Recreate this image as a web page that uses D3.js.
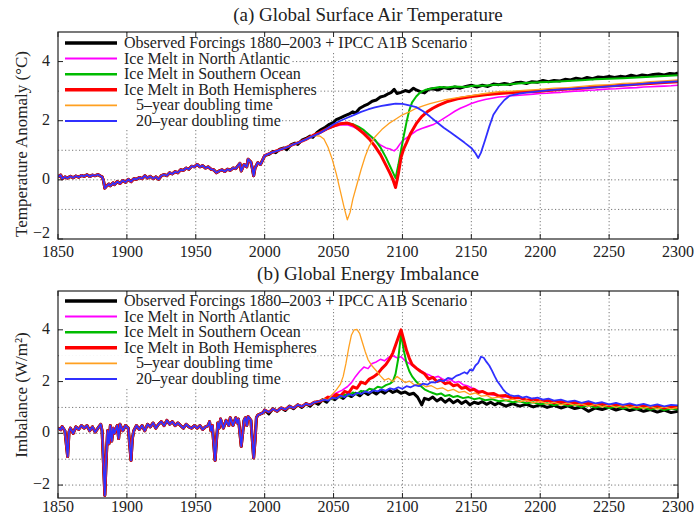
<!DOCTYPE html>
<html><head><meta charset="utf-8">
<script src="https://cdn.jsdelivr.net/npm/d3@7"></script>
<style>body{margin:0;background:#fff} text{font-family:"Liberation Serif","Times New Roman",serif;fill:#222}</style>
</head><body><svg id="c" width="694" height="516"></svg>
<script>
// ---------- tick labels ----------
const xTickVals = [1850,1900,1950,2000,2050,2100,2150,2200,2250,2300];
const tempTickVals = [-2,0,2,4];
const impTickVals = [-2,0,2,4];
const legendLabels = ["Observed Forcings 1880\u20132003 + IPCC A1B Scenario","Ice Melt in North Atlantic","Ice Melt in Southern Ocean","Ice Melt in Both Hemispheres","5\u2013year doubling time","20\u2013year doubling time"];

// ---------- (a) temperature anomaly, shared history 1850-2000 ----------
const tempHist = [[1850,0.10],[1852,0.16],[1853,0.04],[1855,0.10],[1857,0.06],[1859,0.12],[1861,0.07],[1863,0.13],[1865,0.09],[1867,0.15],[1869,0.12],[1871,0.17],[1873,0.11],[1875,0.16],[1877,0.14],[1879,0.18],[1881,0.12],[1882,0.10],[1883,-0.02],[1884,-0.28],[1885,-0.22],[1887,-0.14],[1888,-0.20],[1890,-0.10],[1891,-0.16],[1893,-0.06],[1895,-0.12],[1897,-0.02],[1899,-0.08],[1901,0.02],[1903,-0.06],[1905,0.04],[1907,0.02],[1909,0.08],[1911,0.04],[1913,0.14],[1915,0.06],[1917,0.12],[1919,0.04],[1921,0.10],[1923,0.02],[1925,0.14],[1927,0.18],[1929,0.14],[1931,0.24],[1933,0.20],[1935,0.28],[1937,0.24],[1939,0.34],[1941,0.32],[1943,0.40],[1945,0.36],[1947,0.46],[1949,0.44],[1951,0.52],[1953,0.44],[1955,0.48],[1957,0.40],[1959,0.44],[1961,0.36],[1963,0.34],[1965,0.24],[1967,0.30],[1969,0.34],[1971,0.28],[1973,0.36],[1975,0.32],[1977,0.40],[1979,0.38],[1981,0.50],[1982,0.56],[1983,0.30],[1985,0.52],[1987,0.44],[1988,0.70],[1990,0.60],[1991,0.40],[1992,0.14],[1993,0.40],[1995,0.58],[1997,0.52],[1999,0.72],[2000,0.82]];
const tempBlack = [[2000,0.82],[2003,0.86],[2006,0.96],[2008,0.92],[2011,1.04],[2014,1.08],[2016,1.02],[2019,1.18],[2022,1.24],[2024,1.20],[2027,1.34],[2030,1.40],[2033,1.48],[2035,1.44],[2038,1.60],[2041,1.70],[2044,1.78],[2047,1.88],[2050,1.94],[2052,2.04],[2055,2.10],[2058,2.16],[2061,2.22],[2064,2.30],[2066,2.26],[2069,2.42],[2072,2.50],[2075,2.56],[2078,2.66],[2081,2.70],[2084,2.80],[2087,2.84],[2090,2.92],[2092,2.96],[2094,3.06],[2096,2.92],[2099,2.96],[2102,3.02],[2105,2.98],[2108,3.10],[2110,3.04],[2113,2.98],[2116,2.94],[2119,3.06],[2122,3.08],[2126,3.04],[2130,3.12],[2134,3.08],[2138,3.14],[2142,3.10],[2146,3.16],[2150,3.20],[2154,3.14],[2158,3.20],[2162,3.16],[2166,3.24],[2170,3.22],[2174,3.26],[2178,3.22],[2182,3.28],[2186,3.30],[2190,3.26],[2194,3.32],[2198,3.30],[2202,3.36],[2206,3.32],[2210,3.36],[2214,3.34],[2218,3.40],[2222,3.38],[2226,3.44],[2230,3.40],[2234,3.46],[2238,3.42],[2242,3.48],[2246,3.46],[2250,3.50],[2254,3.46],[2258,3.50],[2262,3.48],[2266,3.54],[2270,3.50],[2274,3.55],[2278,3.52],[2282,3.56],[2286,3.58],[2290,3.55],[2294,3.60],[2298,3.58],[2300,3.62]];
const tempEarly = [[2000,0.82],[2005,0.92],[2010,1.00],[2015,1.08],[2020,1.18],[2025,1.27],[2030,1.37]];
const tempMagenta = [[2035,1.48],[2040,1.58],[2045,1.70],[2050,1.80],[2055,1.86],[2060,1.86],[2064,1.80],[2068,1.70],[2072,1.60],[2076,1.50],[2080,1.32],[2084,1.18],[2088,1.08],[2091,1.04],[2094,0.98],[2096,1.06],[2098,1.20],[2100,1.32],[2103,1.42],[2106,1.52],[2110,1.66],[2114,1.74],[2118,1.80],[2122,1.86],[2126,1.96],[2130,2.08],[2134,2.20],[2138,2.32],[2142,2.42],[2146,2.50],[2150,2.58],[2155,2.66],[2160,2.72],[2165,2.76],[2170,2.80],[2175,2.82],[2180,2.85],[2185,2.86],[2190,2.88],[2195,2.90],[2200,2.92],[2205,2.93],[2210,2.95],[2215,2.96],[2220,2.98],[2225,3.00],[2230,3.01],[2235,3.03],[2240,3.04],[2245,3.06],[2250,3.07],[2255,3.08],[2260,3.10],[2265,3.11],[2270,3.12],[2275,3.14],[2280,3.15],[2285,3.16],[2290,3.17],[2295,3.18],[2300,3.20]];
const tempGreen = [[2035,1.50],[2040,1.60],[2045,1.72],[2050,1.82],[2055,1.90],[2060,1.92],[2064,1.88],[2068,1.80],[2072,1.68],[2076,1.52],[2080,1.36],[2084,1.10],[2088,0.76],[2091,0.46],[2093,0.26],[2095,0.06],[2097,0.50],[2099,1.00],[2101,1.50],[2103,1.96],[2105,2.36],[2107,2.62],[2110,2.82],[2113,2.96],[2117,3.05],[2122,3.10],[2127,3.14],[2132,3.12],[2138,3.16],[2145,3.14],[2152,3.18],[2160,3.18],[2168,3.22],[2176,3.22],[2184,3.26],[2192,3.28],[2200,3.30],[2210,3.32],[2220,3.34],[2230,3.37],[2240,3.40],[2250,3.42],[2260,3.44],[2270,3.46],[2280,3.49],[2290,3.51],[2300,3.54]];
const tempRed = [[2035,1.50],[2040,1.60],[2045,1.72],[2050,1.82],[2055,1.90],[2060,1.92],[2064,1.86],[2068,1.72],[2072,1.56],[2076,1.38],[2080,1.14],[2084,0.86],[2088,0.50],[2091,0.22],[2093,0.02],[2095,-0.26],[2097,0.20],[2099,0.76],[2101,1.06],[2103,1.26],[2106,1.58],[2110,1.90],[2114,2.14],[2118,2.30],[2122,2.42],[2126,2.52],[2132,2.64],[2140,2.74],[2150,2.82],[2160,2.88],[2170,2.92],[2180,2.95],[2190,2.98],[2200,3.00],[2210,3.04],[2220,3.07],[2230,3.10],[2240,3.14],[2250,3.17],[2260,3.20],[2270,3.23],[2280,3.26],[2290,3.29],[2300,3.32]];
const tempOrange = [[2033,1.45],[2036,1.50],[2040,1.48],[2043,1.38],[2046,1.10],[2049,0.70],[2052,0.20],[2055,-0.40],[2058,-1.00],[2060,-1.35],[2062,-1.10],[2064,-0.65],[2067,-0.15],[2070,0.35],[2073,0.80],[2076,1.15],[2080,1.45],[2085,1.70],[2090,1.90],[2095,2.05],[2100,2.20],[2105,2.30],[2110,2.42],[2115,2.50],[2120,2.58],[2130,2.70],[2140,2.78],[2150,2.85],[2160,2.92],[2170,2.98],[2180,3.00],[2190,3.03],[2200,3.06],[2210,3.10],[2220,3.12],[2230,3.16],[2240,3.20],[2250,3.22],[2260,3.26],[2270,3.28],[2280,3.32],[2290,3.35],[2300,3.38]];
const tempBlue = [[2035,1.48],[2040,1.58],[2045,1.72],[2050,1.88],[2055,2.00],[2060,2.10],[2065,2.20],[2070,2.30],[2075,2.38],[2080,2.45],[2085,2.50],[2090,2.54],[2095,2.58],[2100,2.57],[2105,2.52],[2110,2.46],[2115,2.32],[2120,2.14],[2125,1.95],[2130,1.76],[2135,1.60],[2140,1.43],[2145,1.26],[2150,1.08],[2153,0.90],[2155,0.74],[2157,0.92],[2160,1.35],[2163,1.80],[2166,2.20],[2170,2.48],[2174,2.70],[2178,2.85],[2185,2.92],[2190,2.95],[2200,3.00],[2210,3.04],[2220,3.07],[2230,3.10],[2240,3.13],[2250,3.16],[2260,3.20],[2270,3.23],[2280,3.27],[2290,3.30],[2300,3.33]];

// ---------- (b) energy imbalance ----------
const impHist = [[1850,0.20],[1852,0.14],[1853,0.26],[1855,0.10],[1857,-0.90],[1858,0.05],[1859,0.20],[1861,0.00],[1863,0.25],[1865,0.15],[1867,0.30],[1869,0.20],[1871,0.30],[1873,0.10],[1875,0.25],[1877,0.05],[1879,0.20],[1881,0.35],[1882,0.10],[1884,-2.40],[1885,-1.00],[1886,0.10],[1887,-0.40],[1888,0.30],[1889,-0.30],[1890,0.20],[1891,0.00],[1893,0.30],[1894,-0.20],[1895,0.35],[1897,0.10],[1899,0.30],[1901,0.20],[1903,-1.05],[1904,-0.20],[1905,0.10],[1907,0.30],[1909,0.15],[1911,0.30],[1913,0.10],[1915,0.35],[1917,0.25],[1919,0.40],[1921,0.20],[1923,0.35],[1925,0.45],[1927,0.30],[1929,0.50],[1931,0.35],[1933,0.45],[1935,0.30],[1937,0.40],[1939,0.30],[1941,0.20],[1943,0.35],[1945,0.25],[1947,0.20],[1949,0.30],[1951,0.20],[1953,0.30],[1955,0.15],[1957,0.25],[1959,0.30],[1960,0.45],[1961,0.10],[1962,0.30],[1964,-1.05],[1965,-0.30],[1966,0.40],[1967,0.20],[1968,0.55],[1970,0.20],[1972,0.50],[1974,0.30],[1975,0.60],[1977,0.30],[1979,0.60],[1980,0.40],[1981,0.55],[1983,-0.50],[1984,0.00],[1985,0.50],[1986,0.60],[1987,0.30],[1988,0.65],[1990,0.50],[1992,-0.95],[1993,-0.30],[1994,0.60],[1995,0.70],[1997,0.75],[1999,0.80],[2000,0.90]];
const impBlack = [[2000,0.90],[2003,0.75],[2006,0.95],[2009,0.85],[2012,0.98],[2015,0.88],[2018,1.05],[2021,0.95],[2024,1.10],[2027,1.00],[2030,1.15],[2033,1.05],[2036,1.20],[2039,1.12],[2042,1.30],[2045,1.20],[2048,1.38],[2051,1.30],[2054,1.45],[2057,1.35],[2060,1.50],[2063,1.42],[2066,1.55],[2069,1.45],[2072,1.60],[2075,1.50],[2078,1.62],[2081,1.52],[2084,1.65],[2087,1.55],[2090,1.68],[2093,1.58],[2096,1.65],[2099,1.55],[2102,1.60],[2105,1.50],[2108,1.55],[2111,1.40],[2114,1.10],[2116,1.35],[2119,1.30],[2122,1.40],[2125,1.25],[2128,1.35],[2131,1.20],[2134,1.32],[2137,1.18],[2140,1.28],[2143,1.15],[2146,1.25],[2149,1.10],[2152,1.20],[2155,1.15],[2158,1.22],[2161,1.12],[2164,1.20],[2167,1.10],[2170,1.18],[2175,1.05],[2180,1.15],[2185,1.05],[2190,1.12],[2195,1.02],[2200,1.10],[2205,1.00],[2210,1.08],[2215,0.98],[2220,1.06],[2225,0.96],[2230,1.02],[2235,0.85],[2240,0.98],[2245,0.92],[2250,1.00],[2255,0.90],[2260,0.98],[2265,0.88],[2270,0.95],[2275,0.85],[2280,0.92],[2285,0.82],[2290,0.90],[2295,0.80],[2300,0.85]];
const impEarly = [[2000,0.90],[2003,0.82],[2006,0.94],[2009,0.86],[2012,0.98],[2015,0.92],[2018,1.04],[2021,0.98],[2024,1.10],[2027,1.04],[2030,1.14],[2033,1.10],[2036,1.20],[2040,1.24]];
const impMagenta = [[2044,1.32],[2048,1.44],[2052,1.56],[2056,1.66],[2060,1.80],[2063,1.96],[2066,2.20],[2069,2.40],[2072,2.56],[2075,2.50],[2078,2.70],[2081,2.76],[2084,2.86],[2087,2.80],[2090,2.94],[2093,3.00],[2096,2.92],[2099,2.96],[2102,2.80],[2105,2.70],[2108,2.58],[2111,2.50],[2114,2.40],[2117,2.30],[2120,2.24],[2123,2.16],[2126,2.20],[2129,2.10],[2132,2.04],[2135,2.08],[2138,1.96],[2141,2.00],[2144,1.88],[2147,1.84],[2150,1.76],[2153,1.70],[2156,1.62],[2160,1.58],[2164,1.50],[2168,1.46],[2172,1.40],[2176,1.42],[2180,1.34],[2185,1.38],[2190,1.30],[2195,1.34],[2200,1.26],[2205,1.30],[2210,1.22],[2215,1.26],[2220,1.18],[2225,1.24],[2230,1.14],[2235,1.20],[2240,1.12],[2245,1.16],[2250,1.08],[2255,1.14],[2260,1.06],[2265,1.12],[2270,1.04],[2275,1.10],[2280,1.02],[2285,1.08],[2290,1.00],[2295,1.06],[2300,1.02]];
const impGreen = [[2043,1.28],[2046,1.36],[2049,1.32],[2052,1.44],[2055,1.38],[2058,1.50],[2061,1.46],[2064,1.58],[2067,1.52],[2070,1.64],[2073,1.60],[2076,1.72],[2079,1.68],[2082,1.80],[2085,1.76],[2088,1.86],[2091,1.92],[2093,2.00],[2095,2.30],[2097,2.90],[2099,3.85],[2101,3.20],[2103,2.70],[2105,2.40],[2107,2.20],[2110,2.00],[2113,1.84],[2116,1.70],[2119,1.62],[2122,1.56],[2125,1.50],[2128,1.54],[2131,1.44],[2134,1.48],[2137,1.40],[2140,1.44],[2144,1.36],[2148,1.40],[2152,1.32],[2156,1.36],[2160,1.28],[2165,1.32],[2170,1.24],[2175,1.28],[2180,1.20],[2185,1.24],[2190,1.16],[2195,1.20],[2200,1.12],[2205,1.16],[2210,1.08],[2215,1.14],[2220,1.06],[2225,1.10],[2230,1.02],[2235,1.08],[2240,1.00],[2245,1.06],[2250,0.98],[2255,1.04],[2260,0.96],[2265,1.02],[2270,0.94],[2275,1.00],[2280,0.92],[2285,0.98],[2290,0.90],[2295,0.96],[2300,0.92]];
const impRed = [[2043,1.30],[2046,1.40],[2049,1.36],[2052,1.50],[2055,1.44],[2058,1.62],[2061,1.56],[2064,1.80],[2067,1.74],[2070,1.98],[2073,1.92],[2076,2.10],[2079,2.18],[2082,2.30],[2085,2.50],[2088,2.66],[2091,2.90],[2093,3.10],[2095,3.40],[2097,3.70],[2099,4.00],[2101,3.60],[2103,3.20],[2105,2.90],[2107,2.66],[2110,2.52],[2113,2.40],[2116,2.30],[2119,2.10],[2122,2.16],[2125,2.00],[2128,2.06],[2131,1.92],[2134,1.96],[2137,1.84],[2140,1.88],[2143,1.74],[2146,1.78],[2149,1.66],[2152,1.70],[2155,1.58],[2158,1.62],[2162,1.52],[2166,1.54],[2170,1.44],[2175,1.46],[2180,1.36],[2185,1.38],[2190,1.28],[2195,1.32],[2200,1.24],[2205,1.28],[2210,1.18],[2215,1.22],[2220,1.14],[2225,1.20],[2230,1.10],[2235,1.16],[2240,1.08],[2245,1.14],[2250,1.06],[2255,1.12],[2260,1.04],[2265,1.10],[2270,1.02],[2275,1.08],[2280,1.00],[2285,1.06],[2290,0.98],[2295,1.04],[2300,1.00]];
const impOrange = [[2043,1.34],[2046,1.28],[2049,1.50],[2052,1.68],[2055,1.90],[2057,2.20],[2059,2.70],[2061,3.30],[2063,3.80],[2065,4.00],[2067,4.02],[2069,3.85],[2071,3.50],[2073,3.15],[2075,2.85],[2078,2.60],[2081,2.42],[2084,2.22],[2087,2.05],[2090,2.12],[2093,2.00],[2096,2.20],[2099,2.08],[2102,1.96],[2105,2.02],[2109,1.86],[2113,1.92],[2117,1.80],[2121,1.84],[2125,1.72],[2129,1.76],[2133,1.64],[2137,1.70],[2141,1.58],[2145,1.62],[2149,1.50],[2153,1.56],[2157,1.44],[2161,1.46],[2165,1.36],[2170,1.40],[2175,1.28],[2180,1.32],[2185,1.22],[2190,1.28],[2195,1.18],[2200,1.24],[2205,1.14],[2210,1.20],[2215,1.10],[2220,1.18],[2225,1.08],[2230,1.14],[2235,1.04],[2240,1.12],[2245,1.02],[2250,1.10],[2255,1.00],[2260,1.08],[2265,0.98],[2270,1.06],[2275,0.96],[2280,1.04],[2285,0.94],[2290,1.02],[2295,0.94],[2300,1.00]];
const impBlue = [[2043,1.30],[2046,1.26],[2049,1.38],[2052,1.34],[2055,1.46],[2058,1.40],[2061,1.52],[2064,1.46],[2067,1.56],[2070,1.52],[2073,1.62],[2076,1.56],[2079,1.66],[2082,1.62],[2085,1.70],[2088,1.64],[2091,1.74],[2094,1.70],[2097,1.78],[2100,1.72],[2103,1.82],[2106,1.78],[2109,1.86],[2112,1.82],[2115,1.92],[2118,1.88],[2121,1.98],[2124,1.96],[2127,2.06],[2130,2.02],[2133,2.14],[2136,2.10],[2139,2.22],[2142,2.28],[2145,2.36],[2147,2.30],[2149,2.46],[2151,2.42],[2153,2.62],[2155,2.72],[2157,2.96],[2159,2.92],[2161,2.76],[2163,2.62],[2165,2.42],[2167,2.20],[2169,2.00],[2171,1.86],[2173,1.70],[2175,1.58],[2178,1.48],[2181,1.44],[2184,1.46],[2187,1.38],[2190,1.42],[2194,1.34],[2198,1.38],[2202,1.30],[2206,1.34],[2210,1.26],[2215,1.30],[2220,1.22],[2225,1.26],[2230,1.18],[2235,1.24],[2240,1.16],[2245,1.20],[2250,1.12],[2255,1.18],[2260,1.10],[2265,1.16],[2270,1.08],[2275,1.14],[2280,1.06],[2285,1.12],[2290,1.04],[2295,1.10],[2300,1.08]];

// ---------- styles ----------
const colors = ["#000000","#ff00ff","#00bb00","#ff0000","#ffa020","#3030ff"];
const widths = [3,1.6,2,3,1.3,1.8];

const svg = d3.select("#c");
const x = d3.scaleLinear().domain([1850,2300]).range([58,678]);

function panel(o){
  const g = svg.append("g");
  const y = o.y;
  const [y0,y1] = y.range(); // bottom, top
  const L = x.range()[0], R = x.range()[1];
  const id = "clip"+o.key;
  svg.append("clipPath").attr("id",id).append("rect").attr("x",L).attr("y",y1).attr("width",R-L).attr("height",y0-y1);
  // grid
  const grid = g.append("g").attr("stroke","#555").attr("stroke-width",0.8).attr("stroke-dasharray","1.2,2.3");
  grid.selectAll(".gx").data(xTickVals.slice(1,-1)).join("line")
    .attr("x1",d=>x(d)).attr("x2",d=>x(d)).attr("y1",y1).attr("y2",y0);
  grid.selectAll(".gy").data(o.yGrid).join("line")
    .attr("x1",L).attr("x2",R).attr("y1",d=>y(d)).attr("y2",d=>y(d));
  // lines
  const line = d3.line().x(d=>x(d[0])).y(d=>y(d[1]));
  const lg = g.append("g").attr("clip-path",`url(#${id})`).attr("fill","none").attr("stroke-linejoin","round");
  o.series.forEach((s,i)=>{
    lg.append("path").attr("d",line(s)).attr("stroke",colors[i]).attr("stroke-width",widths[i]);
  });
  // legend
  const leg = g.append("g");
  const bg = leg.append("g");
  legendLabels.forEach((lab,i)=>{
    const cy = o.legY + i*15.6;
    const tx = i>=4 ? 136 : 124;
    const t = leg.append("text").attr("x",tx).attr("y",cy+5).attr("font-size",16).text(lab);
    const w = t.node().getComputedTextLength();
    bg.append("rect").attr("x",L+1).attr("y",cy-8).attr("width",tx+w+1-L-1).attr("height",16).attr("fill","#fff");
    leg.append("line").attr("x1",65).attr("x2",117).attr("y1",cy).attr("y2",cy)
      .attr("stroke",colors[i]).attr("stroke-width",widths[i]+0.4);
  });
  // frame
  g.append("rect").attr("x",L).attr("y",y1).attr("width",R-L).attr("height",y0-y1)
    .attr("fill","none").attr("stroke","#222").attr("stroke-width",1.2);
  // ticks
  const tk = g.append("g").attr("stroke","#222").attr("stroke-width",1);
  xTickVals.forEach(v=>{
    tk.append("line").attr("x1",x(v)).attr("x2",x(v)).attr("y1",y0).attr("y2",y0-5);
    tk.append("line").attr("x1",x(v)).attr("x2",x(v)).attr("y1",y1).attr("y2",y1+5);
  });
  o.yTicks.forEach(v=>{
    tk.append("line").attr("x1",L).attr("x2",L+5).attr("y1",y(v)).attr("y2",y(v));
    tk.append("line").attr("x1",R).attr("x2",R-5).attr("y1",y(v)).attr("y2",y(v));
  });
  // tick labels
  g.selectAll(".xl").data(xTickVals).join("text").attr("x",d=>x(d)).attr("y",y0+o.xlabOff)
    .attr("text-anchor","middle").attr("font-size",16).text(d=>d);
  g.selectAll(".yl").data(o.yTicks).join("text").attr("x",L-8).attr("y",d=>Math.min(y(d)+4, y0-1.5))
    .attr("text-anchor","end").attr("font-size",16).text(d=>d<0?"\u2212"+Math.abs(d):d);
  // title
  g.append("text").attr("x",(L+R)/2).attr("y",o.titleY).attr("text-anchor","middle").attr("font-size",19).text(o.title);
  // y label
  g.append("text").attr("transform",`translate(27,${o.ylabY}) rotate(-90)`).attr("text-anchor","middle")
    .attr("font-size",17).text(o.ylab);
}

panel({key:"a", y:d3.scaleLinear().domain([-2,5]).range([239,32]), yGrid:[-1,0,1,2,3,4], yTicks:tempTickVals, xlabOff:17.5,
  title:"(a) Global Surface Air Temperature", titleY:21, ylab:"Temperature Anomaly (\u00B0C)", ylabY:144, legY:43,
  series:[tempHist.concat(tempBlack), tempHist.concat(tempEarly,tempMagenta), tempHist.concat(tempEarly,tempGreen),
          tempHist.concat(tempEarly,tempRed), tempHist.concat(tempEarly,tempOrange), tempHist.concat(tempEarly,tempBlue)]});
panel({key:"b", y:d3.scaleLinear().domain([-2.5,5.5]).range([498,291]), yGrid:[-2,-1,0,1,2,3,4], yTicks:impTickVals, xlabOff:13.5,
  title:"(b) Global Energy Imbalance", titleY:280, ylab:"Imbalance (W/m\u00B2)", ylabY:395, legY:301,
  series:[impHist.concat(impBlack), impHist.concat(impEarly,impMagenta), impHist.concat(impEarly,impGreen),
          impHist.concat(impEarly,impRed), impHist.concat(impEarly,impOrange), impHist.concat(impEarly,impBlue)]});
</script></body></html>
